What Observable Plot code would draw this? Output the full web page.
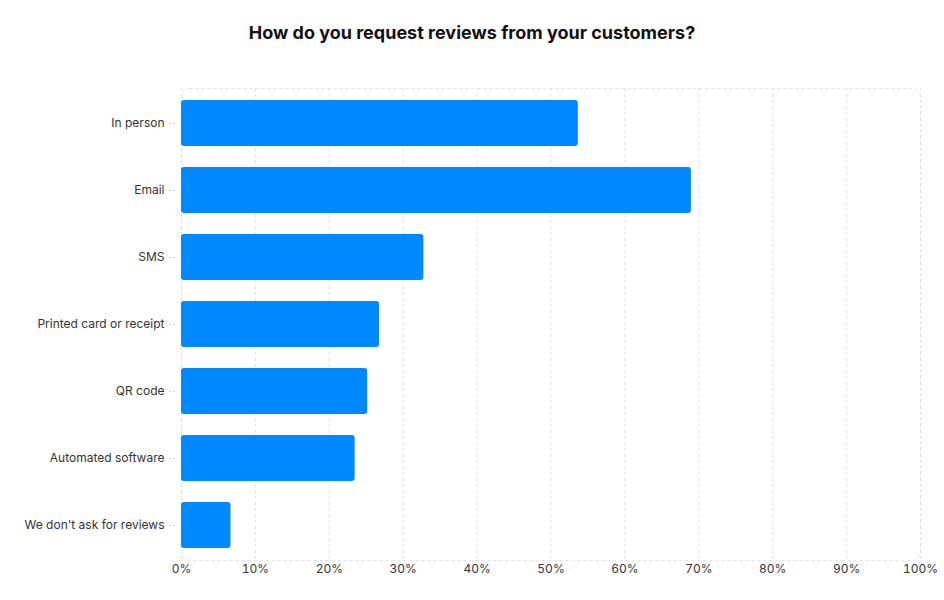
<!DOCTYPE html>
<html>
<head>
<meta charset="utf-8">
<script src="https://cdn.jsdelivr.net/npm/d3@7"></script>
<script src="https://cdn.jsdelivr.net/npm/@observablehq/plot@0.6"></script>
<style>
  html, body { margin: 0; padding: 0; background: #fff; }
  body { width: 944px; height: 600px; font-family: Inter, "Noto Sans", sans-serif; }
  #title { height: 60px; box-sizing: border-box; padding-top: 22px; text-align: center;
           font-size: 18px; font-weight: 700; color: #111; line-height: 22px; }
  #chart svg { display: block; }
</style>
</head>
<body>
<div id="title">How do you request reviews from your customers?</div>
<div id="chart"></div>
<script>
const categories = ["In person", "Email", "SMS", "Printed card or receipt", "QR code", "Automated software", "We don't ask for reviews"];
const values = [53.7, 69.0, 32.8, 26.8, 25.2, 23.5, 6.7];
const xTicks = [0, 10, 20, 30, 40, 50, 60, 70, 80, 90, 100];

const data = categories.map((c, i) => ({category: c, value: values[i]}));

const chart = Plot.plot({
  width: 944,
  height: 540,
  marginTop: 28,
  marginBottom: 40,
  marginLeft: 181,
  marginRight: 24,
  style: {fontFamily: "Inter, 'Noto Sans', sans-serif", fontSize: "12px", color: "#333", background: "#fff"},
  x: {domain: [0, 100], ticks: xTicks, tickFormat: d => d + "%", label: null},
  y: {domain: categories, paddingInner: 0.31, paddingOuter: 0.155, label: null},
  marks: [
    Plot.ruleX(xTicks, {stroke: "#e2e2e2", strokeDasharray: "3,3"}),
    Plot.frame({stroke: "#e2e2e2", strokeDasharray: "3,3", rx: 8}),
    Plot.barX(data, {x: "value", y: "category", fill: "#0088ff", rx: 3}),
    Plot.axisX({ticks: xTicks, tickFormat: d => d + "%", tickSize: 0, tickPadding: 4, fill: "#333", label: null}),
    Plot.axisY({tickSize: 8, tickPadding: 3, dx: -6, stroke: "#d8d8d8", strokeDasharray: "2,2", fill: "#333", label: null})
  ]
});
document.getElementById("chart").appendChild(chart);
</script>
</body>
</html>
